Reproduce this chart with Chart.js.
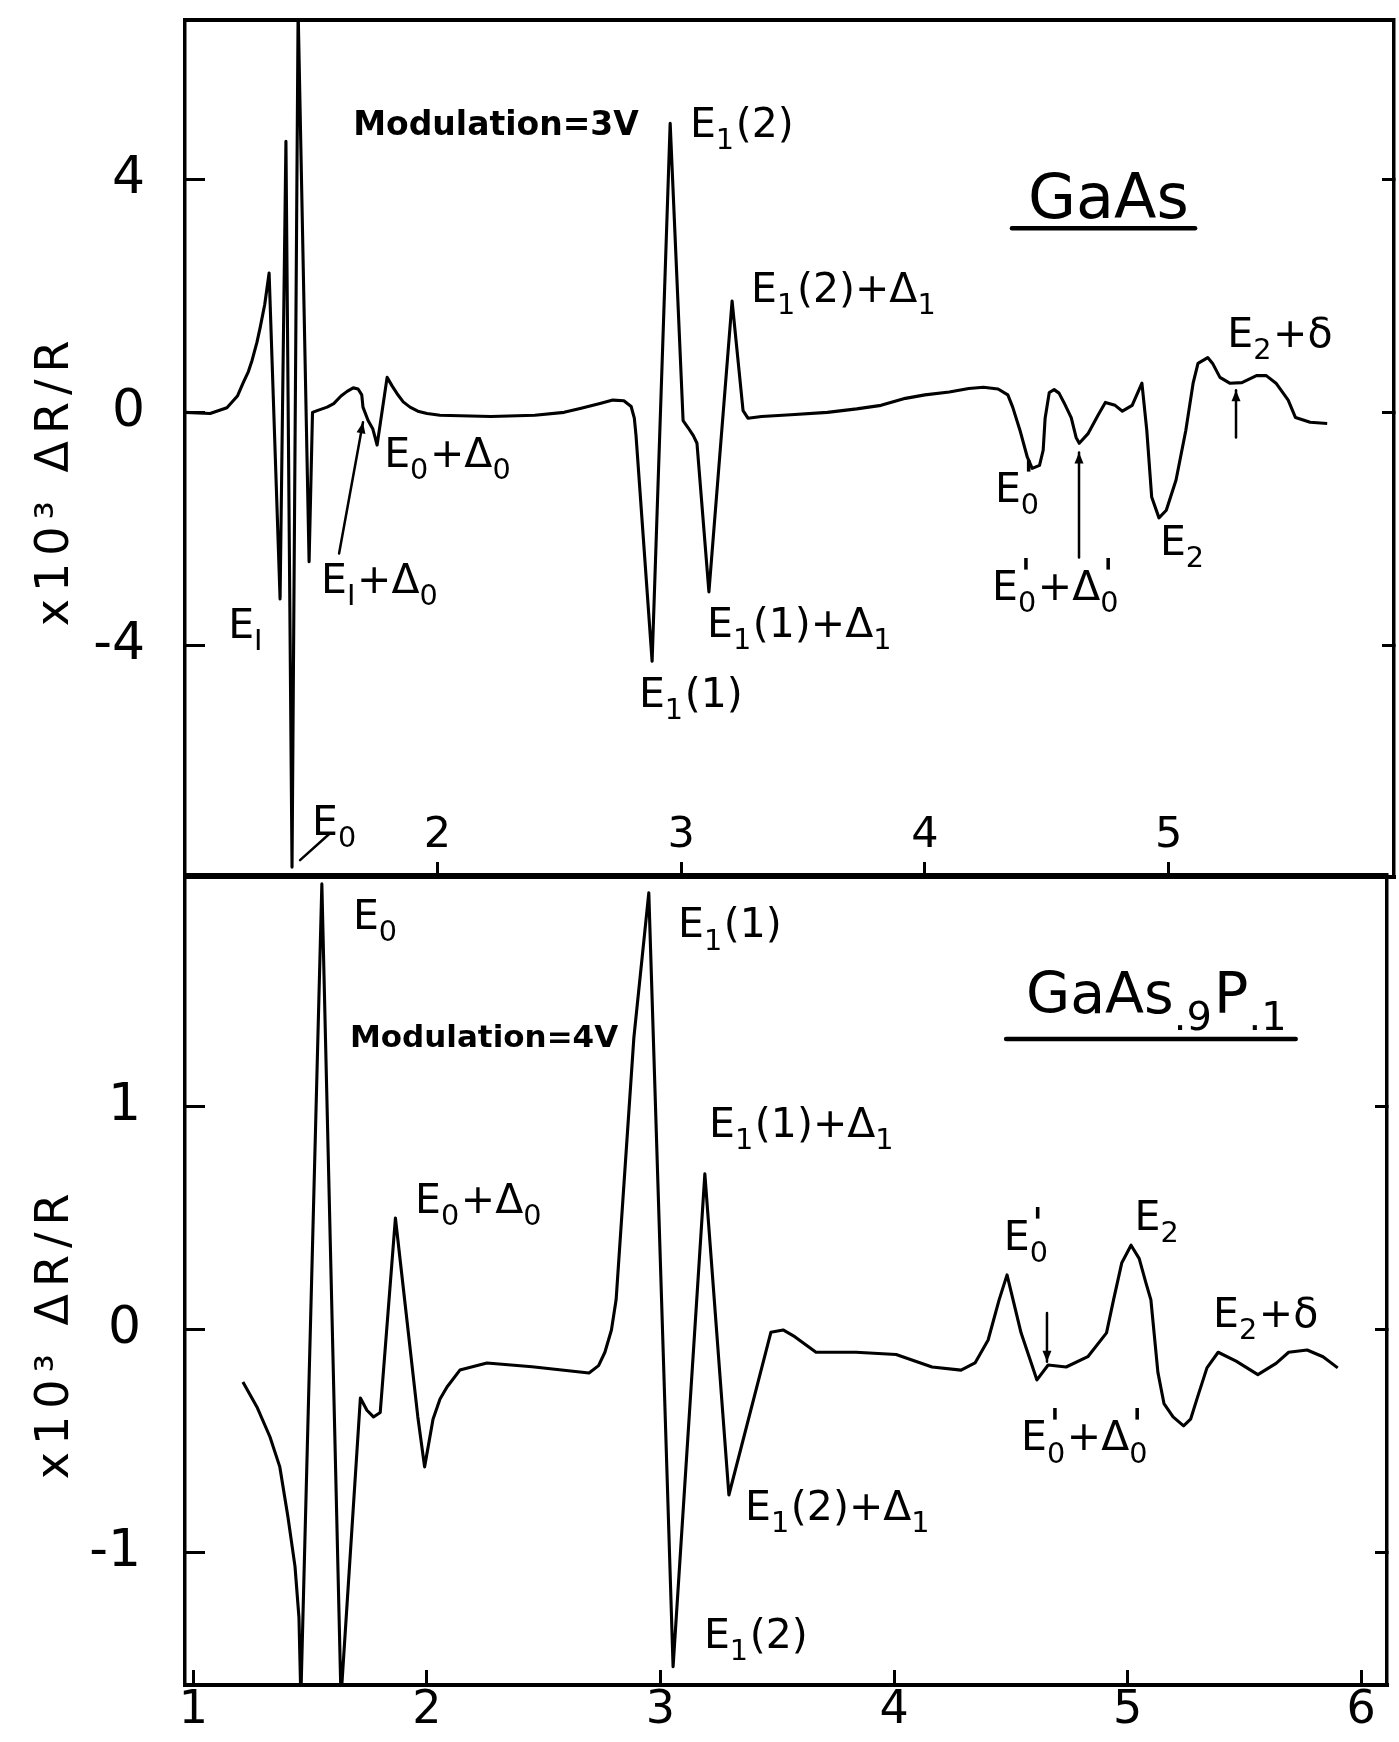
<!DOCTYPE html>
<html><head><meta charset="utf-8">
<script src="https://cdn.jsdelivr.net/npm/chart.js@4.4.1/dist/chart.umd.min.js"></script>
<style>
html,body{margin:0;padding:0;background:#fff;}
#wrap{position:relative;width:1399px;height:1742px;overflow:hidden;background:#fff;}
canvas{position:absolute;left:0;}
#c1{top:0;} #c2{top:860px;}
</style></head><body>
<div id="wrap"><canvas id="c1" width="1399" height="890"></canvas><canvas id="c2" width="1399" height="882"></canvas></div>
<script>
// ---------- DATA ----------
// Top panel: GaAs, photon energy (eV) vs x10^3 ΔR/R
const gaasEnergy = [0.965,1.068,1.137,1.18,1.203,1.225,1.24,1.26,1.273,1.292,1.31,1.355,1.379,1.404,1.429,1.474,1.488,1.507,1.548,1.575,1.605,1.63,1.655,1.675,1.69,1.695,1.716,1.735,1.753,1.794,1.815,1.835,1.86,1.888,1.92,1.958,2.011,2.22,2.4,2.52,2.59,2.667,2.72,2.765,2.795,2.808,2.815,2.881,2.955,3.008,3.028,3.05,3.065,3.114,3.209,3.254,3.274,3.33,3.45,3.6,3.72,3.82,3.92,4.0,4.1,4.18,4.24,4.3,4.34,4.36,4.39,4.42,4.44,4.47,4.485,4.493,4.51,4.53,4.55,4.57,4.6,4.62,4.633,4.67,4.71,4.74,4.78,4.81,4.85,4.89,4.91,4.93,4.96,4.99,5.03,5.07,5.1,5.12,5.16,5.18,5.21,5.25,5.3,5.36,5.4,5.44,5.49,5.52,5.58,5.65];
const gaasSignal = [0,-0.02,0.08,0.28,0.5,0.7,0.89,1.2,1.45,1.85,2.39,-3.2,4.65,-7.8,6.9,-2.56,0,0.03,0.09,0.15,0.28,0.36,0.42,0.4,0.3,0.09,-0.14,-0.28,-0.56,0.6,0.45,0.32,0.18,0.09,0.02,-0.02,-0.05,-0.07,-0.05,0,0.07,0.15,0.21,0.2,0.1,-0.1,-0.4,-4.27,4.96,-0.14,-0.26,-0.4,-0.53,-3.08,1.91,0.03,-0.1,-0.07,-0.04,0,0.06,0.12,0.24,0.3,0.35,0.41,0.43,0.4,0.3,0.09,-0.31,-0.77,-0.96,-0.91,-0.65,-0.1,0.34,0.39,0.33,0.17,-0.09,-0.43,-0.53,-0.36,-0.05,0.17,0.12,0.02,0.12,0.5,-0.31,-1.45,-1.81,-1.68,-1.16,-0.31,0.5,0.84,0.94,0.84,0.6,0.5,0.51,0.63,0.63,0.5,0.21,-0.09,-0.17,-0.19];
// Bottom panel: GaAs.9P.1
const gaaspEnergy = [1.212,1.272,1.328,1.37,1.405,1.435,1.452,1.46,1.55,1.632,1.715,1.743,1.771,1.8,1.865,1.961,1.99,2.026,2.056,2.086,2.141,2.257,2.45,2.694,2.735,2.762,2.79,2.81,2.886,2.95,3.054,3.19,3.293,3.473,3.525,3.575,3.666,3.837,4.009,4.163,4.287,4.347,4.403,4.45,4.484,4.544,4.612,4.66,4.737,4.83,4.91,4.94,4.975,5.015,5.05,5.079,5.1,5.13,5.156,5.195,5.24,5.27,5.3,5.34,5.388,5.465,5.558,5.636,5.69,5.769,5.837,5.9];
const gaaspSignal = [-0.233,-0.345,-0.48,-0.614,-0.84,-1.06,-1.29,-1.65,2.0,-1.65,-0.305,-0.36,-0.39,-0.37,0.502,-0.39,-0.614,-0.4,-0.31,-0.256,-0.18,-0.148,-0.165,-0.193,-0.16,-0.1,0,0.135,1.31,1.96,-1.51,0.7,-0.74,-0.01,0,-0.03,-0.1,-0.1,-0.11,-0.166,-0.18,-0.148,-0.045,0.135,0.247,-0.013,-0.224,-0.157,-0.166,-0.12,-0.013,0.135,0.3,0.38,0.32,0.21,0.135,-0.19,-0.33,-0.39,-0.43,-0.4,-0.3,-0.17,-0.1,-0.14,-0.2,-0.15,-0.1,-0.09,-0.12,-0.17];
// Tick labels
const topXTicks = [2,3,4,5];
const topYTicks = [4,0,-4];
const botXTicks = [1,2,3,4,5,6];
const botYTicks = [1,0,-1];
const yTitle = 'x10³ ΔR/R';
// Annotations (anchored in data coordinates)
const topLabels = [
  {t:'Modulation=3V', x:1.655, y:4.75, s:33, w:'bold'},
  {t:'E_1(2)', x:3.036, y:4.72},
  {t:'GaAs', x:4.423, y:3.33, s:62},
  {t:'E_1(2)+Δ_1', x:3.287, y:1.89},
  {t:'E_2+δ', x:5.24, y:1.12},
  {t:'E_0+Δ_0', x:1.782, y:-0.94},
  {t:'E_I+Δ_0', x:1.523, y:-3.10},
  {t:'E_I', x:1.142, y:-3.87},
  {t:'E_0', x:1.486, y:-7.25},
  {t:'E_1(1)', x:2.827, y:-5.05},
  {t:'E_1(1)+Δ_1', x:3.106, y:-3.85},
  {t:"E_0^'", x:4.287, y:-1.54},
  {t:"E_0^'+Δ_0^'", x:4.275, y:-3.22},
  {t:'E_2', x:4.964, y:-2.45}
];
const topPointers = [
  {x1:1.56, y1:-7.22, x2:1.437, y2:-7.68, head:false},
  {x1:1.597, y1:-2.42, x2:1.695, y2:-0.17, head:true},
  {x1:4.632, y1:-2.49, x2:4.632, y2:-0.69, head:true},
  {x1:5.276, y1:-0.43, x2:5.276, y2:0.38, head:true}
];
const topUnderline = [{x1:4.357, x2:5.108, y:3.16}];
const botLabels = [
  {t:'E_0', x:1.683, y:1.80},
  {t:'E_1(1)', x:3.075, y:1.76},
  {t:'Modulation=4V', x:1.67, y:1.27, s:31, w:'bold'},
  {t:'GaAs_{.9}P_{.1}', x:4.565, y:1.42, s:57},
  {t:'E_1(1)+Δ_1', x:3.208, y:0.865},
  {t:'E_0+Δ_0', x:1.949, y:0.525},
  {t:"E_0^'", x:4.47, y:0.36},
  {t:'E_2', x:5.03, y:0.45},
  {t:'E_2+δ', x:5.366, y:0.013},
  {t:"E_0^'+Δ_0^'", x:4.544, y:-0.54},
  {t:'E_1(2)+Δ_1', x:3.362, y:-0.85},
  {t:'E_1(2)', x:3.186, y:-1.426}
];
const botPointers = [
  {x1:4.655, y1:0.076, x2:4.655, y2:-0.143, head:true}
];
const botUnderline = [{x1:4.48, x2:5.72, y:1.305}];

// ---------- DRAWING HELPERS ----------
const FAM = '"DejaVu Sans", sans-serif';
function parseRich(s){
  const out=[]; let i=0;
  while(i<s.length){
    const c=s[i];
    if(c==='_'||c==='^'){
      const mode=c==='_'?'sub':'sup'; i++;
      let t;
      if(s[i]==='{'){const j=s.indexOf('}',i); t=s.slice(i+1,j); i=j+1;}
      else {t=s[i]; i++;}
      out.push({t,mode});
    } else {
      let t='';
      while(i<s.length && s[i]!=='_' && s[i]!=='^'){t+=s[i]; i++;}
      out.push({t,mode:'n'});
    }
  }
  return out;
}
function drawRich(ctx,s,x,y,size,weight){
  const toks=parseRich(s); let cx=x;
  const fontFor=(tk)=>{
    if(tk.mode==='n') return size;
    if(tk.t==="'") return size*1.05;
    return size*0.7;
  };
  const off=tk=>tk.mode==='sub'?size*0.3:(tk.t==="'"?-size*0.28:-size*0.45);
  for(let k=0;k<toks.length;k++){
    const tk=toks[k];
    if(tk.mode==='n'){
      ctx.font=`${weight} ${size}px ${FAM}`;
      ctx.fillText(tk.t,cx,y);
      cx+=ctx.measureText(tk.t).width;
    } else {
      ctx.font=`${weight} ${fontFor(tk)}px ${FAM}`;
      let w=ctx.measureText(tk.t).width;
      ctx.fillText(tk.t,cx,y+off(tk));
      const nx=toks[k+1];
      if(nx && nx.mode!=='n' && nx.mode!==tk.mode){
        ctx.font=`${weight} ${fontFor(nx)}px ${FAM}`;
        ctx.fillText(nx.t,cx+(nx.t==="'"?size*0.05:0),y+off(nx));
        w=Math.max(w,ctx.measureText(nx.t).width); k++;
      }
      cx+=w+size*0.04;
    }
  }
}
function makeAnnot(labels,pointers,underlines,titleCenter,defSize){
  return {
    id:'annot',
    afterDraw(chart){
      const ctx=chart.ctx, xs=chart.scales.x, ys=chart.scales.y;
      const px=v=>xs.getPixelForValue(v), py=v=>ys.getPixelForValue(v);
      ctx.save();
      ctx.fillStyle='#000'; ctx.strokeStyle='#000';
      ctx.textAlign='left'; ctx.textBaseline='alphabetic';
      labels.forEach(l=>drawRich(ctx,l.t,px(l.x),py(l.y),l.s||defSize,l.w||'normal'));
      ctx.lineCap='round';
      pointers.forEach(p=>{
        const x1=px(p.x1),y1=py(p.y1),x2=px(p.x2),y2=py(p.y2);
        ctx.lineWidth=2.5;
        ctx.beginPath(); ctx.moveTo(x1,y1); ctx.lineTo(x2,y2); ctx.stroke();
        if(p.head){
          const a=Math.atan2(y2-y1,x2-x1), L=11, W=4.5;
          ctx.beginPath();
          ctx.moveTo(x2,y2);
          ctx.lineTo(x2-L*Math.cos(a)+W*Math.sin(a), y2-L*Math.sin(a)-W*Math.cos(a));
          ctx.lineTo(x2-L*Math.cos(a)-W*Math.sin(a), y2-L*Math.sin(a)+W*Math.cos(a));
          ctx.closePath(); ctx.fill();
        }
      });
      underlines.forEach(u=>{
        ctx.lineWidth=4.5;
        ctx.beginPath(); ctx.moveTo(px(u.x1),py(u.y)); ctx.lineTo(px(u.x2),py(u.y)); ctx.stroke();
      });
      // rotated y-axis title
      ctx.translate(68, py(titleCenter));
      ctx.rotate(-Math.PI/2);
      ctx.font=`normal 46px ${FAM}`;
      ctx.textAlign='center';
      try{ctx.letterSpacing='7px';}catch(e){}
      ctx.fillText(yTitle,0,0);
      ctx.restore();
    }
  };
}

function noPad(s){s.paddingTop=0;s.paddingBottom=0;s.paddingLeft=0;s.paddingRight=0;}
function panel(id,xs,ys,o){
  const pts=xs.map((x,i)=>({x,y:ys[i]}));
  const tickSet=vals=>axis=>{axis.ticks=vals.map(v=>({value:v}));};
  const black='#000';
  return new Chart(document.getElementById(id),{
    type:'line',
    data:{datasets:[{data:pts,borderColor:black,borderWidth:3.1,pointRadius:0,tension:0,fill:false,borderJoinStyle:'round'}]},
    options:{
      responsive:false,animation:false,devicePixelRatio:1,
      layout:{padding:0},
      plugins:{legend:{display:false},tooltip:{enabled:false}},
      scales:{
        x:{type:'linear',position:'bottom',min:o.xmin,max:o.xmax,
          afterBuildTicks:tickSet(o.xTicks),
          afterFit:s=>{s.height=o.bottomH;noPad(s);},
          ticks:{color:black,font:{family:FAM,size:o.xFont},padding:o.xPad,mirror:o.xMirror,maxRotation:0,autoSkip:false,callback:v=>String(v)},
          grid:{drawOnChartArea:false,tickLength:-15,lineWidth:3,color:black},
          border:{display:true,width:4,color:black}},
        xt:{type:'linear',position:'top',min:o.xmin,max:o.xmax,
          afterFit:s=>{s.height=o.topH;noPad(s);},
          ticks:{display:false},
          grid:{drawOnChartArea:false,drawTicks:false,color:black},
          border:{display:true,width:4,color:black}},
        y:{type:'linear',position:'left',min:o.ymin,max:o.ymax,
          afterBuildTicks:tickSet(o.yTicks),
          afterFit:s=>{s.width=o.leftW;noPad(s);},
          ticks:{color:black,font:{family:FAM,size:52},padding:o.yPad,autoSkip:false,callback:v=>String(v)},
          grid:{drawOnChartArea:false,tickLength:-20,lineWidth:3,color:black},
          border:{display:true,width:3.5,color:black}},
        yr:{type:'linear',position:'right',min:o.ymin,max:o.ymax,
          afterBuildTicks:tickSet(o.yTicks),
          afterFit:s=>{s.width=o.rightW;noPad(s);},
          ticks:{display:false},
          grid:{drawOnChartArea:false,tickLength:-12,lineWidth:3,color:black},
          border:{display:true,width:3.5,color:black}}
      }
    },
    plugins:[makeAnnot(o.labels,o.pointers,o.underlines,o.titleCenter,o.labelSize)]
  });
}

panel('c1',gaasEnergy,gaasSignal,{
  xmin:0.965,xmax:5.924,ymin:-7.97,ymax:6.73,
  xTicks:topXTicks,yTicks:topYTicks,
  bottomH:13,topH:20,leftW:185,rightW:5,
  xFont:43,xPad:15,xMirror:true,yPad:60,
  labels:topLabels,pointers:topPointers,underlines:topUnderline,
  titleCenter:-1.16,labelSize:41
});
panel('c2',gaaspEnergy,gaaspSignal,{
  xmin:0.964,xmax:6.111,ymin:-1.592,ymax:2.04,
  xTicks:botXTicks,yTicks:botYTicks,
  bottomH:57,topH:15,leftW:185,rightW:12,
  xFont:46,xPad:13,xMirror:false,yPad:64,
  labels:botLabels,pointers:botPointers,underlines:botUnderline,
  titleCenter:-0.013,labelSize:41
});
</script>
</body></html>
